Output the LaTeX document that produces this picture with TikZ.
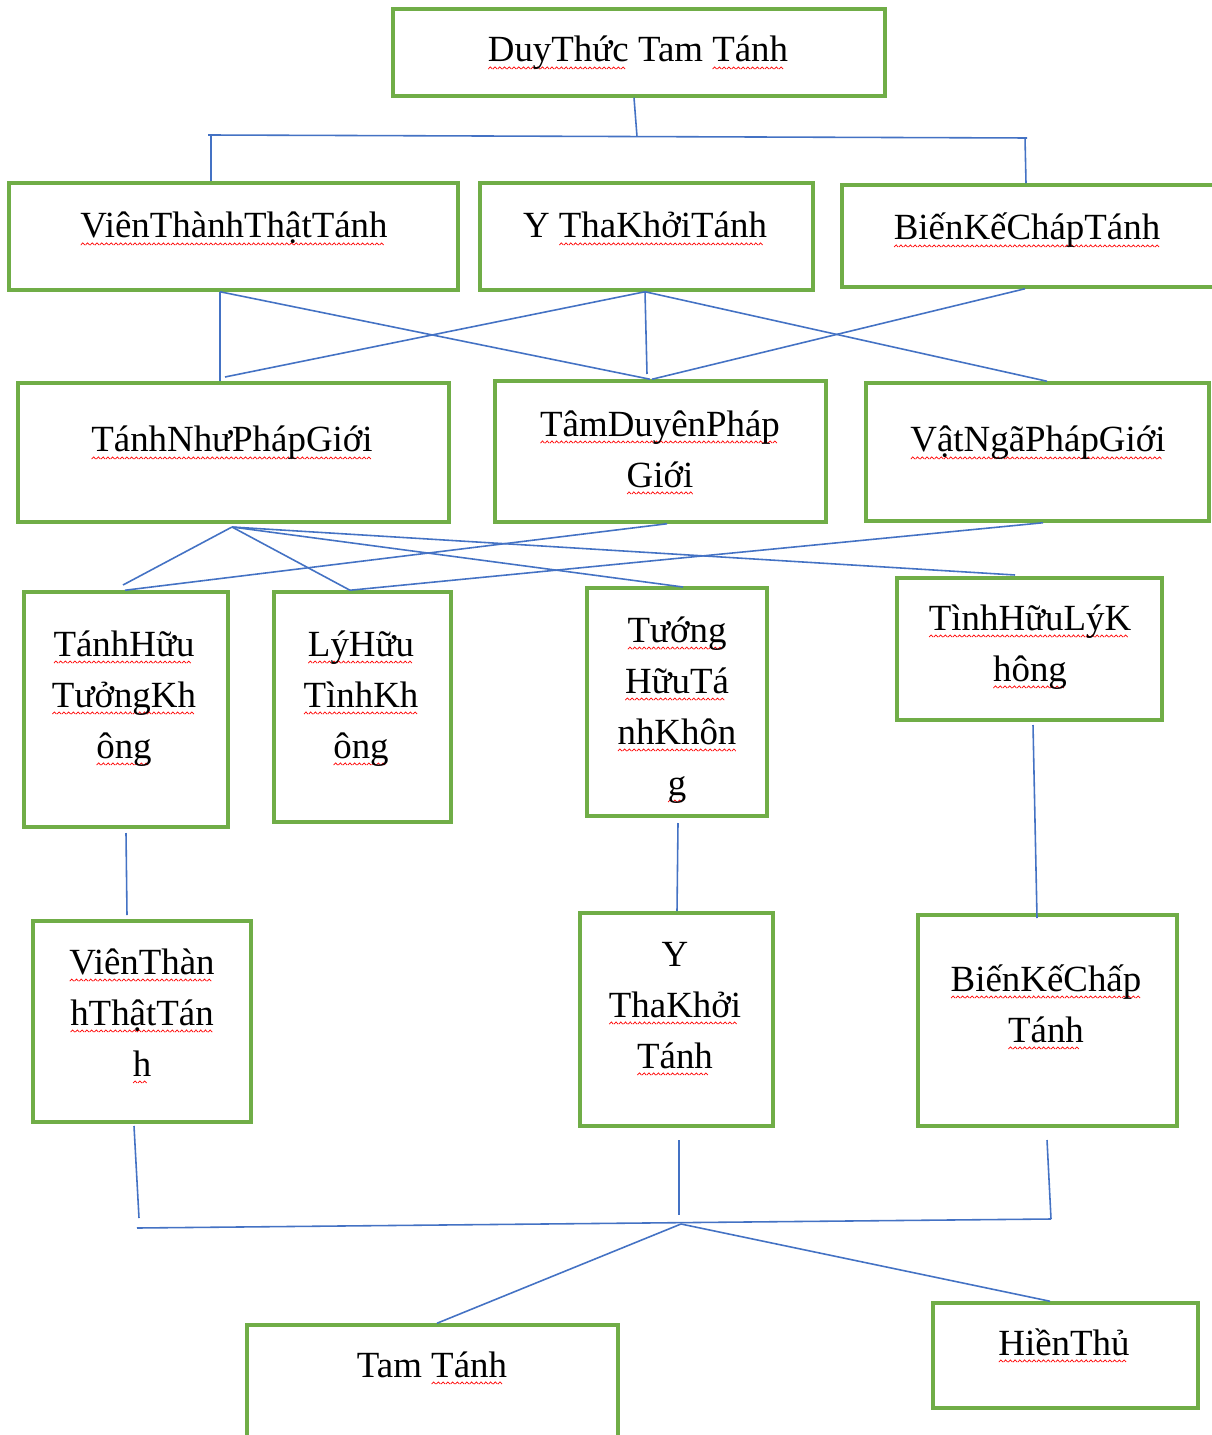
\documentclass[tikz,border=0pt]{standalone}
\usepackage{fontspec}
\setmainfont{Liberation Serif}
\usetikzlibrary{fit}
\definecolor{boxgreen}{HTML}{70AD47}
\definecolor{linkblue}{HTML}{4472C4}
\newsavebox\rwbox
\newcommand\redwave[1]{\leavevmode\sbox\rwbox{#1}%
  \rlap{\raisebox{-4.2pt}{\leaders\hbox{\tikz\draw[red,line width=0.4pt](0,0)--(1.15pt,1.2pt)--(2.3pt,0);}\hskip\wd\rwbox}}%
  \usebox\rwbox}
\begin{document}
\begin{tikzpicture}[x=0.02cm,y=-0.02cm,
  box/.style={draw=boxgreen, line width=2pt, inner sep=0pt},
  conn/.style={draw=linkblue, line width=0.9pt},
  txt/.style={inner sep=0pt, align=center, anchor=base, text=black,
    font=\fontsize{21}{29}\selectfont}]
\fill[white] (0,0) rectangle (1212,1435);
\useasboundingbox (0,0) rectangle (1212,1435);
% boxes
\node[box, fit={(393,9) (885,96)}] (top) {};
\node[box, fit={(9,183) (458,290)}] (vt) {};
\node[box, fit={(480,183) (813,290)}] (yt) {};
\node[box, fit={(842,185) (1225,287)}] (bk) {};
\node[box, fit={(18,383) (449,522)}] (tn) {};
\node[box, fit={(495,381) (826,522)}] (td) {};
\node[box, fit={(866,383) (1209,521)}] (vn) {};
\node[box, fit={(24,592) (228,827)}] (th) {};
\node[box, fit={(274,592) (451,822)}] (lh) {};
\node[box, fit={(587,588) (767,816)}] (tu) {};
\node[box, fit={(897,578) (1162,720)}] (ti) {};
\node[box, fit={(33,921) (251,1122)}] (vt2) {};
\node[box, fit={(580,913) (773,1126)}] (yt2) {};
\node[box, fit={(918,915) (1177,1126)}] (bk2) {};
\node[box, fit={(247,1325) (618,1450)}] (tt) {};
\node[box, fit={(933,1303) (1198,1408)}] (ht) {};
% texts (anchor base = baseline of the last line)
\node[txt] (top-t) at (638,62) {\redwave{DuyThức} Tam \redwave{Tánh}};
\node[txt] (vt-t) at (234,238) {\redwave{ViênThànhThậtTánh}};
\node[txt] (yt-t) at (645,238) {Y \redwave{ThaKhởiTánh}};
\node[txt] (bk-t) at (1027,240) {\redwave{BiếnKếChápTánh}};
\node[txt] (tn-t) at (232,452) {\redwave{TánhNhưPhápGiới}};
\node[txt] (td-t) at (660,487) {\redwave{TâmDuyênPháp}\\\redwave{Giới}};
\node[txt] (vn-t) at (1038,452) {\redwave{VậtNgãPhápGiới}};
\node[txt] (th-t) at (124,758) {\redwave{TánhHữu}\\\redwave{TưởngKh}\\\redwave{ông}};
\node[txt] (lh-t) at (361,758) {\redwave{LýHữu}\\\redwave{TìnhKh}\\\redwave{ông}};
\node[txt] (tu-t) at (677,795) {\redwave{Tướng}\\\redwave{HữuTá}\\\redwave{nhKhôn}\\\redwave{g}};
\node[txt] (ti-t) at (1030,681) {\redwave{TìnhHữuLýK}\\\redwave{hông}};
\node[txt] (vt2-t) at (142,1076) {\redwave{ViênThàn}\\\redwave{hThậtTán}\\\redwave{h}};
\node[txt] (yt2-t) at (675,1068) {Y\\\redwave{ThaKhởi}\\\redwave{Tánh}};
\node[txt] (bk2-t) at (1046,1042) {\redwave{BiếnKếChấp}\\\redwave{Tánh}};
\node[txt] (tt-t) at (432,1377) {Tam \redwave{Tánh}};
\node[txt] (ht-t) at (1064,1355) {\redwave{HiềnThủ}};
% junctions
\coordinate (hL) at (208,135);
\coordinate (hR) at (1027,138);
\coordinate (bL) at (137,1228);
\coordinate (bR) at (1051,1219);
\coordinate (bM) at (681,1224);
% connectors top
\draw[conn] (top.south -| 634,0) -- (637,136.5);
\draw[conn] (hL) -- (hR);
\draw[conn] (211,135) -- (vt.north -| 211,0);
\draw[conn] (1025,138) -- (bk.north -| 1026,0);
% level 2 -> 3
\draw[conn] (vt.south -| 220,0) -- (tn.north -| 220,0);
\draw[conn] (vt.south -| 220,0) -- (td.north -| 650,0);
\draw[conn] (yt.south -| 645,0) -- (225,377);
\draw[conn] (yt.south -| 645,0) -- (647,374);
\draw[conn] (yt.south -| 645,0) -- (vn.north -| 1047,0);
\draw[conn] (bk.south -| 1025,0) -- (td.north -| 652,0);
% level 3 -> 4
\coordinate (tnB) at (232,527);
\draw[conn] (tnB) -- (123,585);
\draw[conn] (tnB) -- (lh.north -| 350,0);
\draw[conn] (tnB) -- (683,587);
\draw[conn] (tnB) -- (1015,575);
\draw[conn] (td.south -| 667,0) -- (th.north -| 125,0);
\draw[conn] (vn.south -| 1043,0) -- (lh.north -| 350,0);
% level 4 -> 5
\draw[conn] (126,833) -- (127,915);
\draw[conn] (678,823) -- (677,911);
\draw[conn] (1033,725) -- (1037,918);
% level 5 -> bottom
\draw[conn] (134,1126) -- (139,1218);
\draw[conn] (679,1140) -- (679,1215);
\draw[conn] (1047,1140) -- (bR);
\draw[conn] (bL) -- (bR);
\draw[conn] (bM) -- (tt.north -| 437,0);
\draw[conn] (bM) -- (ht.north -| 1050,0);
\end{tikzpicture}
\end{document}
